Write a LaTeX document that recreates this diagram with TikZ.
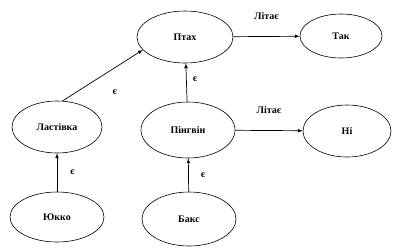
\documentclass[tikz,border=0pt]{standalone}
\usepackage{fontspec}
\setmainfont{Liberation Serif}
\usetikzlibrary{shapes.geometric}
\begin{document}
\begin{tikzpicture}[x=1pt,y=-1pt,
	font=\fontsize{10}{12}\selectfont\bfseries,
	vuzol/.style={ellipse, draw, line width=.6pt, inner sep=0pt},
	mitka/.style={inner sep=1pt}]
				\useasboundingbox (0,0) rectangle (393,250);
				\path
				(185,37) node[vuzol, minimum width=96pt, minimum height=52pt](ptakh){Птах}
				(341,36) node[vuzol, minimum width=82pt, minimum height=44pt](tak){Так}
				(57,127) node[vuzol, minimum width=90pt, minimum height=52pt](lastivka){Ластівка}
				(188,130) node[vuzol, minimum width=94pt, minimum height=56pt](pinhvin){Пінгвін}
				(347,131) node[vuzol, minimum width=88pt, minimum height=52pt](ni){Ні}
				(57,217) node[vuzol, minimum width=94pt, minimum height=50pt](yukko){Юкко}
				(189,219) node[vuzol, minimum width=94pt, minimum height=54pt](baks){Бакс}
				;
				\draw[-latex,line width=.7pt] (ptakh)--(tak) node[mitka,pos=.5,above=16pt]{Літає};
				\draw[-latex,line width=.7pt] (pinhvin)--(ni) node[mitka,pos=.5,above=16pt]{Літає};
				\draw[-latex,line width=.7pt] (lastivka.78)--(ptakh.197) node[mitka,pos=.5,xshift=12pt,yshift=-17pt]{є};
				\draw[-latex,line width=.7pt] (pinhvin)--(ptakh) node[mitka,pos=.5,right=5pt,yshift=3pt]{є};
				\draw[-latex,line width=.7pt] (yukko)--(lastivka) node[mitka,pos=.5,right=12pt]{є};
				\draw[-latex,line width=.7pt] (baks)--(pinhvin) node[mitka,pos=.5,right=11pt]{є};
			\end{tikzpicture}
\end{document}
